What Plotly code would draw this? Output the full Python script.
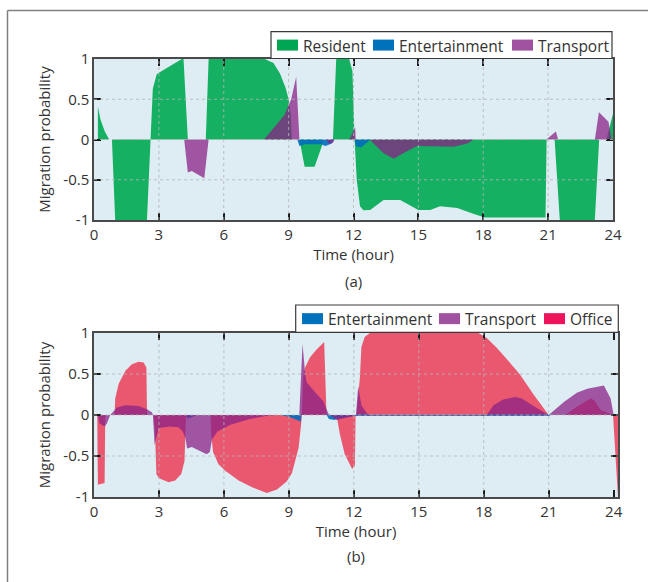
import plotly.graph_objects as go

W, H = 648, 582

# ---------------- data: panel (a) ----------------
hours_a_res = [0.18, 0.3, 0.5, 0.7, 0.83, 0.98, 2.45, 2.6, 2.72, 2.9, 3.0, 4.06, 4.14, 4.34, 5.17, 5.3,
               7.9, 8.3, 8.6, 8.85, 9.0, 9.1, 9.15, 9.5, 9.55, 9.74, 10.2, 10.55, 10.6, 11.05, 11.2, 11.8,
               11.95, 12.05, 12.15, 12.3, 12.46, 12.77, 13.39, 14.16, 15.0, 15.55, 16.0, 16.8, 17.5, 18.07,
               20.88, 20.93, 21.3, 21.54, 23.16, 23.36, 23.7, 24.0]
res_a = [0.41, 0.25, 0.1, 0, 0, -1, -1, 0, 0.63, 0.81, 0.83, 1, 1, 0, 0, 1,
         1, 0.95, 0.82, 0.65, 0.5, 0.3, 0, 0, -0.07, -0.34, -0.34, -0.07, 0, 0, 1, 1,
         0.85, 0, -0.5, -0.83, -0.88, -0.876, -0.75, -0.75, -0.876, -0.876, -0.83, -0.85, -0.92, -0.97,
         -0.97, 0, 0, -1, -1, 0, 0, 0.32]

hours_a_ent = [0, 9.4, 9.5, 9.75, 10.5, 10.7, 11.0, 11.1, 12.05, 12.12, 12.35, 12.66, 12.8, 24]
ent_a = [0, 0, -0.08, -0.06, -0.06, -0.08, -0.05, 0, 0, -0.085, -0.1, -0.03, 0, 0]

hours_a_tra = [0, 4.17, 4.34, 4.52, 5.1, 5.3, 7.86, 8.8, 9.12, 9.35, 9.5, 10.74, 10.85, 11.05, 11.12,
               11.8, 12.08, 12.1, 12.74, 13.39, 13.86, 14.3, 14.94, 16.64, 17.26, 17.57, 20.92, 21.36,
               21.46, 23.16, 23.35, 23.79, 23.94, 24]
tra_a = [0, 0, -0.41, -0.39, -0.48, 0, 0, 0.3, 0.5, 0.78, 0, 0, -0.05, -0.04, 0,
         0, 0.15, 0, 0, -0.17, -0.24, -0.17, -0.08, -0.09, -0.05, 0, 0, 0.1,
         0, 0, 0.34, 0.22, 0, 0]

# ---------------- data: panel (b) ----------------
hours_b_off = [0.15, 0.18, 0.49, 0.52, 0.95, 0.98, 1.14, 1.45, 1.75, 2.06, 2.29, 2.42, 2.45, 2.75, 2.82,
               2.88, 3.0, 3.45, 3.75, 4.03, 4.18, 4.22, 4.25, 5.38, 5.42, 5.5, 5.75, 6.06, 6.68, 7.3,
               7.98, 8.45, 8.9, 9.14, 9.45, 9.57, 9.6, 9.66, 9.75, 9.97, 10.28, 10.63, 10.74, 11.2,
               11.25, 11.35, 11.58, 11.82, 11.92, 12.05, 12.08, 12.12, 12.28, 12.35, 12.5, 12.74, 17.75,
               18.14, 18.6, 19.14, 19.68, 20.3, 21.0, 21.77, 22.3, 22.93, 23.1, 23.4, 23.86, 23.97, 24.2]
off_b = [0, -0.85, -0.83, 0, 0, 0.2, 0.38, 0.54, 0.62, 0.65, 0.64, 0.58, 0, 0, -0.2,
         -0.72, -0.77, -0.82, -0.8, -0.72, -0.56, -0.27, 0, 0, -0.25, -0.45, -0.6, -0.68, -0.8, -0.88,
         -0.95, -0.91, -0.81, -0.71, -0.4, -0.1, 0, 0.46, 0.58, 0.7, 0.8, 0.89, 0, 0,
         -0.07, -0.23, -0.48, -0.62, -0.66, -0.62, 0, 0, 0.46, 0.83, 0.95, 1.0, 1.0,
         0.94, 0.82, 0.66, 0.49, 0.25, 0, 0, 0.1, 0.2, 0.18, 0.06, 0.01, 0, -1.0]

hours_b_ent = [0, 4.25, 4.3, 4.5, 4.7, 8.6, 9.0, 9.43, 9.55, 9.58, 10.74, 10.85, 11.1, 11.28, 12.0,
               12.2, 21.0, 21.1, 24.2]
ent_b = [0, 0, -0.04, -0.03, 0, 0, -0.02, -0.06, -0.08, 0, 0, -0.05, -0.06, -0.04, -0.01,
         -0.013, -0.013, 0, 0]

hours_b_tra = [0.18, 0.25, 0.49, 0.6, 0.75, 1.06, 1.45, 2.06, 2.45, 2.68, 2.72, 2.8, 2.9, 3.0, 3.5,
               3.9, 4.1, 4.22, 4.3, 4.52, 5.2, 5.35, 5.45, 5.7, 6.3, 7.2, 8.0, 8.5, 9.48, 9.63, 9.74,
               9.82, 10.2, 10.58, 10.82, 10.9, 11.2, 11.58, 12.05, 12.1, 12.2, 12.35, 12.6, 12.7,
               18.14, 18.45, 18.9, 19.45, 19.76, 20.3, 21.0, 21.7, 22.3, 22.78, 23.55, 23.86, 24.0]
tra_b = [0, -0.1, -0.14, -0.1, 0, 0.09, 0.12, 0.11, 0.07, 0.03, 0, -0.37, -0.25, -0.16, -0.14,
         -0.15, -0.2, -0.28, -0.41, -0.39, -0.48, -0.45, -0.3, -0.2, -0.12, -0.05, -0.01, 0, 0, 0.87, 0.54,
         0.4, 0.28, 0.17, 0.02, 0, -0.06, -0.04, -0.01, 0, 0.35, 0.12, 0.02, 0,
         0, 0.12, 0.19, 0.22, 0.2, 0.11, 0, 0.16, 0.27, 0.32, 0.36, 0.2, 0]

x_ticks = [0, 3, 6, 9, 12, 15, 18, 21, 24]
y_ticks = [-1, -0.5, 0, 0.5, 1]
y_ticktext = ["-1", "-0.5", "0", "0.5", "1"]

legend_a = ["Resident", "Entertainment", "Transport"]
legend_b = ["Entertainment", "Transport", "Office"]

# ---------------- styles ----------------
FONT = "Open Sans"
TXT = "#333333"
BG = "#deedf3"
FS = 15
LFS = 15.5
fill = {
    "Resident": "rgba(0,169,83,0.9)",
    "Entertainment": "rgba(0,110,190,0.9)",
    "Transport": "rgba(138,34,133,0.75)",
    "Office": "rgba(238,37,68,0.75)",
}
swatch = {"Resident": "#00a651", "Entertainment": "#0072bc", "Transport": "#a052a0", "Office": "#ed145b"}

fig = go.Figure()


def area(x, y, name, xa, ya):
    fig.add_trace(go.Scatter(x=x, y=y, mode="lines", fill="tozeroy", fillcolor=fill[name],
                             line=dict(width=0, color=fill[name]), name=name, showlegend=False,
                             hoverinfo="skip", xaxis=xa, yaxis=ya))


area(hours_a_res, res_a, "Resident", "x", "y")
area(hours_a_ent, ent_a, "Entertainment", "x", "y")
area(hours_a_tra, tra_a, "Transport", "x", "y")

area(hours_b_off, off_b, "Office", "x2", "y2")
area(hours_b_ent, ent_b, "Entertainment", "x2", "y2")
area(hours_b_tra, tra_b, "Transport", "x2", "y2")

ax = dict(showline=True, linecolor="#4a4a4a", linewidth=1.5, mirror="ticks", ticks="inside",
          ticklen=7, tickwidth=2, tickcolor="#1a1a1a", showgrid=False, zeroline=False, automargin=False,
          tickfont=dict(size=FS, color=TXT, family=FONT))
xax = dict(ax, tickvals=x_ticks, ticktext=[str(t) for t in x_ticks],
           title=dict(text="Time (hour)", font=dict(size=FS, color=TXT, family=FONT), standoff=4))
yax = dict(ax, tickvals=y_ticks, ticktext=y_ticktext, range=[-1, 1],
           title=dict(text="Migration probability", font=dict(size=FS, color=TXT, family=FONT), standoff=9))

fig.update_layout(
    width=W, height=H, margin=dict(l=0, r=0, t=0, b=0, autoexpand=False),
    paper_bgcolor="white", plot_bgcolor=BG, showlegend=False,
    xaxis=dict(xax, domain=[94 / W, 613 / W], range=[0, 24], anchor="y"),
    yaxis=dict(yax, domain=[1 - 220 / H, 1 - 59 / H], anchor="x"),
    xaxis2=dict(xax, domain=[94 / W, 618 / W], range=[0, 24.2], anchor="y2"),
    yaxis2=dict(yax, domain=[1 - 497 / H, 1 - 333 / H], anchor="x2"),
)

shapes = []
annotations = []
grid_line = dict(color="rgba(180,180,180,0.8)", width=1, dash="3px,3px")
for xa, ya, xmax in (("x", "y", 24), ("x2", "y2", 24.2)):
    for t in x_ticks[1:-1]:
        shapes.append(dict(type="line", xref=xa, yref=ya, x0=t, x1=t, y0=-1, y1=1, line=grid_line, layer="above"))
    for t in y_ticks[1:-1]:
        shapes.append(dict(type="line", xref=xa, yref=ya, x0=0, x1=xmax, y0=t, y1=t, line=grid_line, layer="above"))

# outer frame of figure
border = dict(color="#808080", width=1.5)
shapes.append(dict(type="line", xref="paper", yref="paper", x0=7.5 / W, x1=7.5 / W, y0=0, y1=1 - 10.5 / H, line=border))
shapes.append(dict(type="line", xref="paper", yref="paper", x0=7.5 / W, x1=1, y0=1 - 10.5 / H, y1=1 - 10.5 / H, line=border))


def px_x(p):
    return p / W


def px_y(p):
    return 1 - p / H


def legend(names, box, sw_x, top, bottom):
    shapes.append(dict(type="rect", xref="paper", yref="paper", x0=px_x(box[0]), x1=px_x(box[1]),
                       y0=px_y(bottom), y1=px_y(top), line=dict(color="#3a3a3a", width=1.2),
                       fillcolor="white", layer="above"))
    cy = (top + bottom) / 2
    for name, sx in zip(names, sw_x):
        shapes.append(dict(type="rect", xref="paper", yref="paper", x0=px_x(sx), x1=px_x(sx + 21),
                           y0=px_y(cy + 5.5), y1=px_y(cy - 5.5), line=dict(width=0),
                           fillcolor=swatch[name], layer="above"))
        annotations.append(dict(text=name, xref="paper", yref="paper", x=px_x(sx + 24), y=px_y(cy + 0.5),
                                xanchor="left", yanchor="middle", showarrow=False,
                                font=dict(size=LFS, color=TXT, family=FONT)))


legend(legend_a, (271, 612), (277, 373, 512), 31.7, 58.5)
legend(legend_b, (295.7, 618.3), (302, 439, 544), 305, 332.3)

annotations.append(dict(text="(a)", xref="paper", yref="paper", x=px_x(353.5), y=px_y(281), xanchor="center",
                        yanchor="middle", showarrow=False, font=dict(size=FS, color=TXT, family=FONT)))
annotations.append(dict(text="(b)", xref="paper", yref="paper", x=px_x(356), y=px_y(556), xanchor="center",
                        yanchor="middle", showarrow=False, font=dict(size=FS, color=TXT, family=FONT)))

fig.update_layout(shapes=shapes, annotations=annotations)
fig.write_html("out.html", config={"displayModeBar": False},
               post_script="document.body.style.margin='0px';")
